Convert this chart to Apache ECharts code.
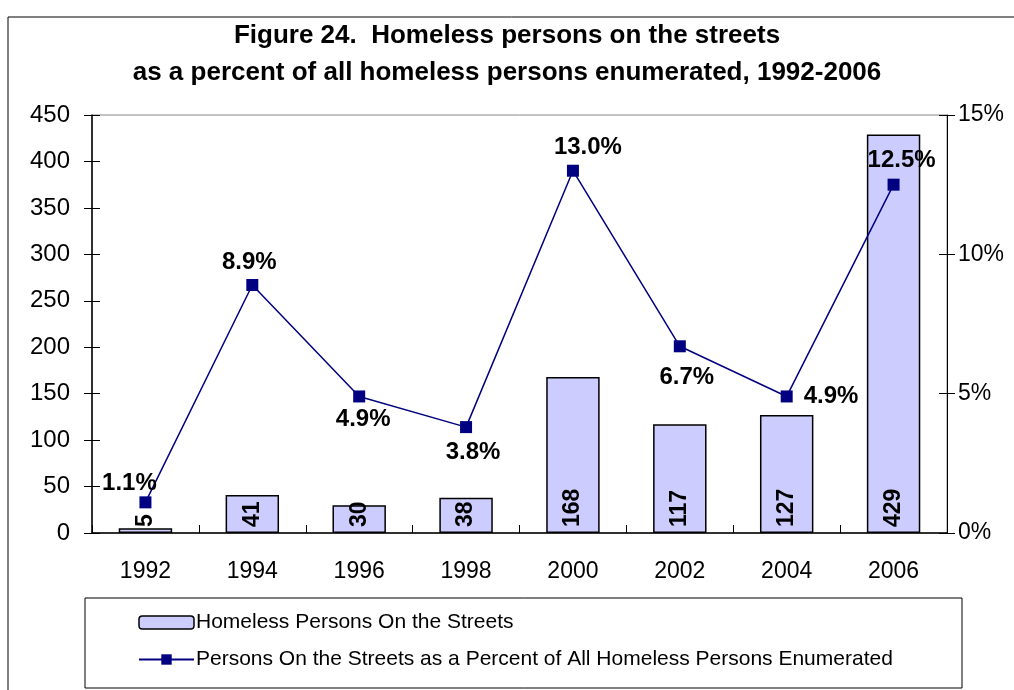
<!DOCTYPE html>
<html>
<head>
<meta charset="utf-8">
<script src="https://cdn.jsdelivr.net/npm/echarts@6/dist/echarts.min.js"></script>
<style>
  html, body { margin: 0; padding: 0; background: #fff; }
  #main { width: 1014px; height: 690px; }
</style>
</head>
<body>
<div id="main"></div>
<script>
const years = ['1992', '1994', '1996', '1998', '2000', '2002', '2004', '2006'];
const streetCounts = [5, 41, 30, 38, 168, 117, 127, 429];
const streetPercents = [1.1, 8.9, 4.9, 3.8, 13.0, 6.7, 4.9, 12.5];
const labelPlaces = ['top', 'top', 'bottom', 'bottom', 'top', 'bottom', 'right', 'top'];
const labelShifts = [[-16, 4], [-3, 0], [4, 0], [7, 2], [15, 0], [7, 8], [6, 0], [8, -1]];

const chart = echarts.init(document.getElementById('main'));
const font = 'Liberation Sans, Arial, sans-serif';
const plotBox = { left: 92, right: 67, top: 115, bottom: 157 };

const lineData = streetPercents.map((v, i) => ({
    value: v,
    label: { position: labelPlaces[i], offset: labelShifts[i] }
}));

// ticks cross the axes: grid 0 draws them outward, an identical empty grid 1 draws them inward
chart.setOption({
    backgroundColor: '#fff',
    animation: false,
    title: {
        text: 'Figure 24.  Homeless persons on the streets\nas a percent of all homeless persons enumerated, 1992-2006',
        left: 'center',
        top: 12,
        textStyle: { fontFamily: font, fontSize: 26, fontWeight: 'bold', color: '#000', lineHeight: 37 }
    },
    graphic: [
        { type: 'rect', shape: { x: 8, y: 17, width: 1010, height: 680 }, style: { fill: 'none', stroke: '#000', lineWidth: 1 }, z: -1 },
        { type: 'rect', shape: { x: 85, y: 598, width: 877, height: 90 }, style: { fill: 'none', stroke: '#000', lineWidth: 1 } }
    ],
    legend: {
        orient: 'vertical',
        left: 133,
        top: 607,
        itemGap: 16,
        itemWidth: 55,
        itemHeight: 13,
        textStyle: { fontFamily: font, fontSize: 21, color: '#000', padding: [0, 0, 0, -3] },
        data: [
            { name: 'Homeless Persons On the Streets', itemStyle: { borderColor: '#000', borderWidth: 1.5 } },
            { name: 'Persons On the Streets as a Percent of All Homeless Persons Enumerated' }
        ]
    },
    grid: [
        Object.assign({ show: true, borderColor: '#888', borderWidth: 1 }, plotBox),
        Object.assign({ show: false }, plotBox)
    ],
    xAxis: [
        {
            type: 'category',
            data: years,
            axisLine: { lineStyle: { color: '#000', width: 1.5 } },
            axisTick: { length: 8, lineStyle: { color: '#000' } },
            axisLabel: { fontFamily: font, fontSize: 23, color: '#000', margin: 27 },
            z: 3
        },
        {
            type: 'category',
            gridIndex: 1,
            data: years,
            axisLine: { show: false },
            axisTick: { show: true, inside: true, length: 8, lineStyle: { color: '#000', width: 1 } },
            axisLabel: { show: false },
            z: 3
        }
    ],
    yAxis: [
        {
            type: 'value',
            position: 'left',
            min: 0, max: 450, interval: 50,
            axisLine: { show: true, lineStyle: { color: '#000', width: 1.5 } },
            axisTick: { show: true, length: 8, lineStyle: { color: '#000' } },
            axisLabel: { fontFamily: font, fontSize: 24, color: '#000', margin: 22 },
            splitLine: { show: false }
        },
        {
            type: 'value',
            position: 'right',
            min: 0, max: 15, interval: 5,
            axisLine: { show: true, lineStyle: { color: '#000', width: 1 } },
            axisTick: { show: true, length: 8, lineStyle: { color: '#000' } },
            axisLabel: { fontFamily: font, fontSize: 23, color: '#000', margin: 11, formatter: '{value}%' },
            splitLine: { show: false }
        },
        {
            type: 'value',
            gridIndex: 1,
            position: 'left',
            min: 0, max: 450, interval: 50,
            axisLine: { show: false },
            axisTick: { show: true, inside: true, length: 8, lineStyle: { color: '#000', width: 1 } },
            axisLabel: { show: false },
            splitLine: { show: false },
            z: 3
        },
        {
            type: 'value',
            gridIndex: 1,
            position: 'right',
            min: 0, max: 15, interval: 5,
            axisLine: { show: false },
            axisTick: { show: true, inside: true, length: 8, lineStyle: { color: '#000', width: 1 } },
            axisLabel: { show: false },
            splitLine: { show: false },
            z: 3
        }
    ],
    series: [
        {
            name: 'Homeless Persons On the Streets',
            type: 'bar',
            data: streetCounts,
            barWidth: '50%',
            itemStyle: { color: '#CCCCFF', borderColor: '#000', borderWidth: 1.5 },
            label: {
                show: true,
                position: 'insideBottom',
                rotate: 90,
                align: 'left',
                verticalAlign: 'middle',
                distance: 6,
                fontFamily: font,
                fontSize: 23,
                fontWeight: 'bold',
                color: '#000'
            }
        },
        {
            name: 'Persons On the Streets as a Percent of All Homeless Persons Enumerated',
            type: 'line',
            yAxisIndex: 1,
            data: lineData,
            symbol: 'rect',
            symbolSize: 12,
            lineStyle: { color: '#000080', width: 1.5 },
            itemStyle: { color: '#000080' },
            label: {
                show: true,
                formatter: p => p.value.toFixed(1) + '%',
                fontFamily: font,
                fontSize: 24,
                fontWeight: 'bold',
                color: '#000',
                distance: 5
            }
        }
    ]
});
</script>
</body>
</html>
